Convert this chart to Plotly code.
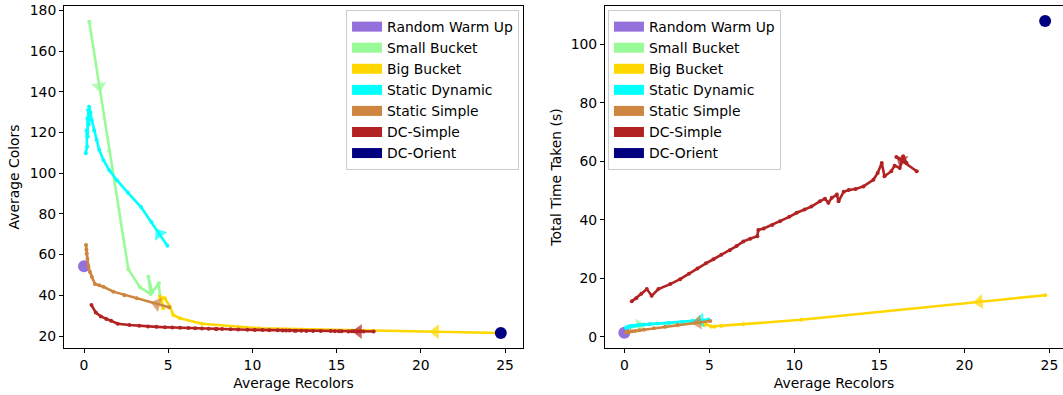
import plotly.graph_objects as go

# ---------------- data ----------------
series_names = ["Random Warm Up", "Small Bucket", "Big Bucket", "Static Dynamic",
                "Static Simple", "DC-Simple", "DC-Orient"]
series_colors = ["#9370DB", "#98FB98", "#FFD700", "#00FFFF", "#CD853F", "#B22222", "#000080"]

rw_recolors = [0.0]
rw_colors = [54.3]
rw_time = [1.4]

sb_recolors = [0.31, 1.5, 2.63, 3.33, 3.96, 3.82, 4.05, 4.44, 4.51]
sb_colors = [174.4, 111.0, 52.8, 43.9, 40.6, 49.1, 41.5, 45.9, 39.3]
sb_time = [3.2, 4.4, 4.6, 4.8, 5.0, 4.9, 4.7, 5.0, 4.8]

bb_recolors = [24.75, 10.4, 7.0, 5.7, 5.3, 5.1, 4.8, 4.51, 4.7, 4.6]
bb_colors = [21.5, 23.8, 26.0, 28.7, 30.3, 34.4, 38.5, 39.3, 33.6, 37.7]
bb_time = [14.2, 5.8, 4.3, 3.7, 3.4, 3.5, 4.3, 4.7, 4.0, 4.5]

sd_recolors = [4.95, 4.0, 3.37, 2.6, 1.94, 1.5, 1.15, 0.9, 0.75, 0.6, 0.46, 0.38, 0.30,
               0.33, 0.25, 0.28, 0.2, 0.22, 0.15, 0.18, 0.1]
sd_colors = [64.4, 76.0, 83.5, 90.5, 96.7, 101.5, 106.5, 111.5, 116.3, 121.0, 126.0, 130.0,
             132.7, 128.0, 131.0, 124.0, 127.0, 118.0, 121.0, 113.0, 109.8]
sd_time = [5.9, 5.4, 5.0, 4.7, 4.5, 4.3, 4.2, 4.0, 3.9, 3.8, 3.7, 3.6, 3.5,
           3.5, 3.4, 3.4, 3.3, 3.3, 3.2, 3.2, 3.1]

ss_recolors = [5.05, 3.13, 2.4, 1.74, 1.15, 0.9, 0.65, 0.46, 0.35, 0.26, 0.2, 0.16, 0.14, 0.12]
ss_colors = [34.1, 38.5, 40.0, 41.8, 44.2, 45.0, 45.6, 49.1, 51.5, 54.0, 58.0, 60.5, 62.5, 64.7]
ss_time = [5.4, 4.0, 3.4, 2.9, 2.4, 2.2, 2.0, 1.9, 1.8, 1.7, 1.65, 1.6, 1.55, 1.5]

dcs_recolors = [17.2, 16.0, 16.6, 16.4, 16.2, 15.9, 15.7, 15.3, 15.14, 14.9, 14.65, 14.06,
                13.6, 13.2, 12.9, 12.6, 12.5, 12.2, 12.0, 11.8, 11.5, 11.0, 10.6, 10.14,
                9.7, 9.16, 8.7, 8.2, 7.88, 7.82, 7.4, 7.0, 6.6, 6.2, 5.7, 5.24, 4.8, 4.3,
                3.8, 3.28, 2.7, 2.0, 1.61, 1.32, 1.0, 0.7, 0.44]
dcs_colors = [22.2, 22.3, 22.2, 22.3, 22.2, 22.3, 22.2, 22.3, 22.3, 22.3, 22.4, 22.4,
              22.5, 22.5, 22.6, 22.6, 22.6, 22.7, 22.7, 22.7, 22.8, 22.8, 22.9, 23.0,
              23.1, 23.2, 23.3, 23.4, 23.5, 23.5, 23.6, 23.7, 23.8, 23.9, 24.0, 24.2, 24.3, 24.5,
              24.7, 25.0, 25.4, 26.0, 27.5, 28.4, 29.6, 31.5, 35.2]
dcs_time = [56.6, 61.5, 59.4, 61.7, 57.7, 58.5, 56.6, 54.9, 59.4, 56.0, 53.7, 51.4,
            50.5, 50.2, 49.6, 46.3, 48.6, 47.5, 45.8, 47.2, 46.3, 44.5, 43.5, 42.4,
            41.0, 39.5, 38.2, 37.0, 36.5, 34.4, 33.5, 32.6, 31.0, 29.6, 28.0, 26.5, 25.1, 23.3,
            21.5, 19.7, 18.0, 16.3, 14.0, 16.3, 14.7, 13.2, 12.1]

dco_recolors = [24.75]
dco_colors = [21.5]
dco_time = [108.0]

x_ticks = [0, 5, 10, 15, 20, 25]
colors_ticks = [20, 40, 60, 80, 100, 120, 140, 160, 180]
time_ticks = [0, 20, 40, 60, 80, 100]

# ---------------- build ----------------
all_series = [
    (rw_recolors, rw_colors, rw_time, None),
    (sb_recolors, sb_colors, sb_time, 0.5),
    (bb_recolors, bb_colors, bb_time, 0.27),
    (sd_recolors, sd_colors, sd_time, 0.5),
    (ss_recolors, ss_colors, ss_time, 0.38),
    (dcs_recolors, dcs_colors, dcs_time, 0.75),
    (dco_recolors, dco_colors, dco_time, None),
]

FONT = "DejaVu Sans"
FS = 13.9

fig = go.Figure()
for (xs, cs, ts, frac), name, col in zip(all_series, series_names, series_colors):
    for xa, ya, ys in (("x", "y", cs), ("x2", "y2", ts)):
        if len(xs) == 1:
            fig.add_trace(go.Scatter(x=xs, y=ys, mode="markers", xaxis=xa, yaxis=ya,
                                     marker=dict(size=12, color=col), showlegend=False,
                                     hoverinfo="skip"))
        else:
            fig.add_trace(go.Scatter(x=xs, y=ys, mode="lines+markers", xaxis=xa, yaxis=ya,
                                     line=dict(color=col, width=2.6),
                                     marker=dict(size=4, color=col), showlegend=False,
                                     hoverinfo="skip"))
            ax = xs[0] + frac * (xs[1] - xs[0])
            ay = ys[0] + frac * (ys[1] - ys[0])
            fig.add_trace(go.Scatter(x=[xs[0], ax], y=[ys[0], ay], mode="markers",
                                     xaxis=xa, yaxis=ya,
                                     marker=dict(symbol="triangle-up", angleref="previous",
                                                 size=[0, 13], color=col,
                                                 line=dict(width=0)),
                                     showlegend=False, hoverinfo="skip"))

# legend entries
for name, col in zip(series_names, series_colors):
    for lg, xa, ya in (("legend", "x", "y"), ("legend2", "x2", "y2")):
        fig.add_trace(go.Scatter(x=[None], y=[None], mode="lines", name=name,
                                 xaxis=xa, yaxis=ya, legend=lg,
                                 line=dict(color=col, width=10)))

axis_common = dict(showline=True, mirror=True, linecolor="black", linewidth=1,
                   ticks="outside", ticklen=4, tickcolor="black", showgrid=False,
                   zeroline=False, tickfont=dict(family=FONT, size=FS, color="black"))
title_font = dict(family=FONT, size=FS, color="black")

legend_common = dict(bgcolor="rgba(255,255,255,0.8)", bordercolor="#cccccc", borderwidth=1,
                     font=dict(family=FONT, size=FS, color="black"), yanchor="top",
                     tracegroupgap=0, itemwidth=30)

fig.update_layout(
    width=1063, height=395,
    margin=dict(l=64, r=0, t=6, b=47),
    plot_bgcolor="white", paper_bgcolor="white",
    font=dict(family=FONT, size=FS, color="black"),
    xaxis=dict(domain=[0, 0.4595], range=[-1.19, 26.07], tickvals=x_ticks,
               title=dict(text="Average Recolors", standoff=6, font=title_font),
               anchor="y", **axis_common),
    yaxis=dict(range=[14.1, 182.2], tickvals=colors_ticks,
               title=dict(text="Average Colors", standoff=6, font=title_font),
               anchor="x", **axis_common),
    xaxis2=dict(domain=[0.5415, 1], range=[-1.14, 25.8], tickvals=x_ticks,
                title=dict(text="Average Recolors", standoff=6, font=title_font),
                anchor="y2", **axis_common),
    yaxis2=dict(range=[-3.85, 113.1], tickvals=time_ticks,
                title=dict(text="Total Time Taken (s)", standoff=5, font=title_font),
                anchor="x2", **axis_common),
    legend=dict(x=0.4555, xanchor="right", y=0.988, **legend_common),
    legend2=dict(x=0.5445, xanchor="left", y=0.988, **legend_common),
)

fig.write_html("out.html", config={"displayModeBar": False},
               post_script="document.body.style.margin='0';")
